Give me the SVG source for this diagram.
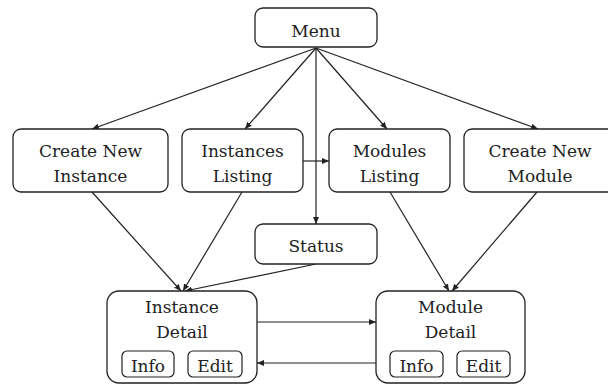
<svg xmlns="http://www.w3.org/2000/svg" width="608" height="385" viewBox="0 0 608 385">
<defs>
<marker id="ah" markerWidth="8" markerHeight="8" refX="7" refY="4" orient="auto" markerUnits="userSpaceOnUse">
<path d="M0,1 L7,4 L0,7 Z" fill="#222"/>
</marker>
<style>
.box{fill:#fff;stroke:#222;stroke-width:1.3}
.btn{fill:#fff;stroke:#222;stroke-width:1.2}
.c{fill:none;stroke:#222;stroke-width:1.2;marker-end:url(#ah)}
</style>
</defs>
<rect width="608" height="385" fill="#fff"/>
<g id="connectors">
<line class="c" x1="316" y1="48" x2="92" y2="129"/>
<line class="c" x1="316" y1="48" x2="245" y2="129"/>
<line class="c" x1="316" y1="48" x2="316" y2="224"/>
<line class="c" x1="316" y1="48" x2="387" y2="129"/>
<line class="c" x1="316" y1="48" x2="538" y2="129"/>
<line class="c" x1="303" y1="161" x2="329" y2="161"/>
<line class="c" x1="92" y1="192" x2="181" y2="291"/>
<line class="c" x1="242" y1="192" x2="183" y2="291"/>
<line class="c" x1="316" y1="264" x2="185" y2="291"/>
<line class="c" x1="390" y1="192" x2="449" y2="291"/>
<line class="c" x1="537" y1="192" x2="452" y2="291"/>
<line class="c" x1="257" y1="322" x2="376" y2="322"/>
<line class="c" x1="376" y1="363" x2="257" y2="363"/>
</g>
<g font-family="DejaVu Serif, Liberation Serif, serif" font-size="17" fill="#222" text-anchor="middle">
<g id="menu">
<rect class="box" x="255" y="8" width="122" height="39" rx="8"/>
<text x="316" y="37">Menu</text>
</g>
<g id="create-new-instance">
<rect class="box" x="13" y="129" width="155" height="63" rx="8"/>
<text x="90.5" y="157">Create New</text>
<text x="90.5" y="182">Instance</text>
</g>
<g id="instances-listing">
<rect class="box" x="182" y="129" width="121" height="63" rx="8"/>
<text x="242.5" y="157">Instances</text>
<text x="242.5" y="182">Listing</text>
</g>
<g id="modules-listing">
<rect class="box" x="329" y="129" width="121" height="63" rx="8"/>
<text x="389.5" y="157">Modules</text>
<text x="389.5" y="182">Listing</text>
</g>
<g id="create-new-module">
<rect class="box" x="464" y="129" width="155" height="63" rx="8"/>
<text x="540" y="157">Create New</text>
<text x="540" y="182">Module</text>
</g>
<g id="status">
<rect class="box" x="255" y="224" width="122" height="40" rx="8"/>
<text x="316" y="252">Status</text>
</g>
<g id="instance-detail">
<rect class="box" x="107" y="291" width="150" height="92" rx="12"/>
<text x="182" y="313">Instance</text>
<text x="182" y="338">Detail</text>
<rect class="btn" x="122" y="351" width="52" height="26" rx="5"/>
<text x="148" y="372">Info</text>
<rect class="btn" x="188" y="351" width="54" height="26" rx="5"/>
<text x="215" y="372">Edit</text>
</g>
<g id="module-detail">
<rect class="box" x="376" y="291" width="149" height="92" rx="12"/>
<text x="450.5" y="313">Module</text>
<text x="450.5" y="338">Detail</text>
<rect class="btn" x="390" y="351" width="53" height="26" rx="5"/>
<text x="416.5" y="372">Info</text>
<rect class="btn" x="457" y="351" width="53" height="26" rx="5"/>
<text x="483.5" y="372">Edit</text>
</g>
</g>
</svg>
